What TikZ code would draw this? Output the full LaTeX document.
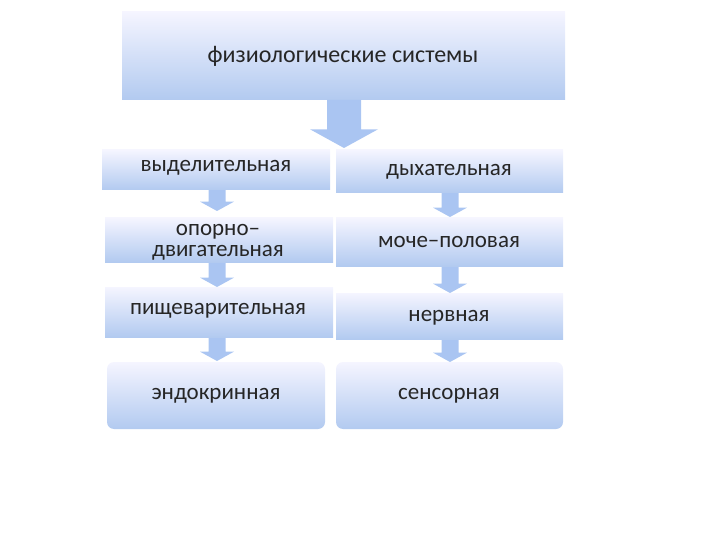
\documentclass[tikz,border=0pt]{standalone}
\usepackage{fontspec}
\setmainfont{Carlito}
\begin{document}
\begin{tikzpicture}[x=1pt,y=-1pt,
  box/.style={draw=none,top color=blue!4!white,bottom color={rgb,255:red,178;green,202;blue,240}},
  lbl/.style={font=\fontsize{23}{24}\selectfont,text=black!85,align=center,inner sep=0pt},
  arr/.style={fill={rgb,255:red,170;green,197;blue,242},draw=none}]
\useasboundingbox (0,0) rectangle (720,540);
\newcommand\dar[4]{\fill[arr] (#1-#4*0.5,#2) -- (#1+#4*0.5,#2) -- (#1+#4*0.5,#3-#4*0.55) -- (#1+#4,#3-#4*0.55) -- (#1,#3) -- (#1-#4,#3-#4*0.55) -- (#1-#4*0.5,#3-#4*0.55) -- cycle;}
\shade[box] (122,12) rectangle (565,100);
\node[lbl,font=\fontsize{24}{25}\selectfont] (top) at (343,56) {физиологические системы};
\dar{344}{100}{148}{34}
\dar{217}{190}{211}{17}
\dar{217}{262}{287}{17}
\dar{217}{337}{361}{17}
\dar{450}{193}{217}{17}
\dar{450}{266}{293}{17}
\dar{450}{339}{362}{17}
\shade[box] (102,150) rectangle (330,190);
\shade[box] (105,218) rectangle (333,262);
\shade[box] (105,287) rectangle (333,337);
\shade[box,rounded corners=7] (107,362) rectangle (325,429);
\shade[box] (336,150) rectangle (563,193);
\shade[box] (336,218) rectangle (563,266);
\shade[box] (336,293) rectangle (563,339);
\shade[box,rounded corners=7] (336,362) rectangle (563,429);
\node[lbl] (l1) at (216,168) {выделительная};
\node[lbl] (l2) at (218,242) {опорно–\\[-3pt]двигательная};
\node[lbl] (l3) at (218,311) {пищеварительная};
\node[lbl] (l4) at (216,396) {эндокринная};
\node[lbl] (r1) at (449,172) {дыхательная};
\node[lbl] (r2) at (449,242) {моче–половая};
\node[lbl] (r3) at (449,318) {нервная};
\node[lbl] (r4) at (449,396) {сенсорная};
\end{tikzpicture}
\end{document}
